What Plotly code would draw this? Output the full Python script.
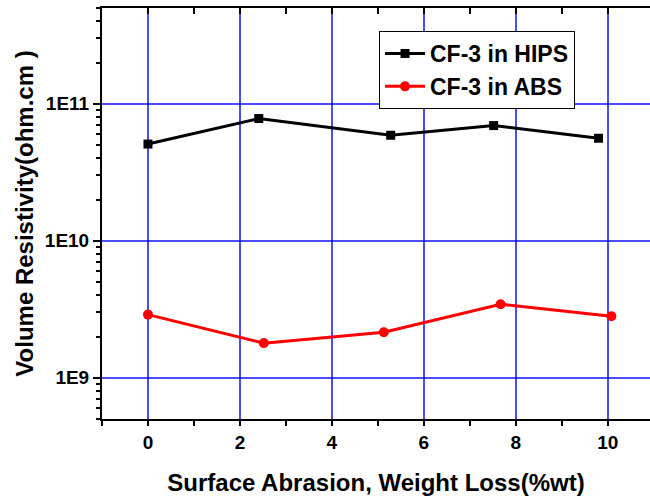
import plotly.graph_objects as go

hips_x = [0.0, 2.41, 5.28, 7.52, 9.80]
hips_y = [5.08e10, 7.8e10, 5.89e10, 6.93e10, 5.6e10]
abs_x = [0.0, 2.52, 5.13, 7.67, 10.08]
abs_y = [2.89e9, 1.79e9, 2.15e9, 3.44e9, 2.81e9]

x_tickvals = [0, 2, 4, 6, 8, 10]
x_minor = [-1, 1, 3, 5, 7, 9]
y_tickvals = [1e9, 1e10, 1e11]
y_ticktext = ["1E9", "1E10", "1E11"]
y_minor = [m * 10 ** e for e in (8, 9, 10, 11) for m in range(2, 10) if 5e8 <= m * 10 ** e <= 5e11]

FONT = "Liberation Sans, Arial, sans-serif"
X_RANGE = [-1, 10.92]
GRID = "rgba(0,0,255,0.7)"

fig = go.Figure()
fig.add_trace(go.Scatter(
    x=hips_x, y=hips_y, name="<b>CF-3 in HIPS</b>", mode="lines+markers",
    line=dict(color="black", width=3),
    marker=dict(symbol="square", size=9, color="black"),
))
fig.add_trace(go.Scatter(
    x=abs_x, y=abs_y, name="<b>CF-3 in ABS</b>", mode="lines+markers",
    line=dict(color="red", width=3),
    marker=dict(symbol="circle", size=10, color="red"),
))
# empty trace so the top (mirror) axis is drawn
fig.add_trace(go.Scatter(x=[None], y=[None], xaxis="x2", showlegend=False, hoverinfo="skip"))

fig.update_layout(
    width=650, height=496,
    margin=dict(l=102, r=0, t=8, b=77, autoexpand=False),
    plot_bgcolor="white", paper_bgcolor="white",
    font=dict(family=FONT, color="black"),
    showlegend=True,
    legend=dict(
        x=0.5055, y=0.944, xanchor="left", yanchor="top",
        bordercolor="black", borderwidth=1, bgcolor="white",
        font=dict(size=23, family=FONT, color="black"),
        itemwidth=40, tracegroupgap=0,
    ),
    xaxis=dict(
        range=X_RANGE, showline=True, linecolor="black", linewidth=2,
        automargin=False,
        ticks="outside", ticklen=5, tickwidth=2, tickcolor="black",
        tickmode="array", tickvals=x_tickvals,
        ticktext=["<b>%d</b>" % v for v in x_tickvals],
        tickfont=dict(size=19, family=FONT),
        minor=dict(tickmode="array", tickvals=x_minor,
                   ticks="outside", ticklen=5, tickwidth=2, tickcolor="black"),
        showgrid=True, gridcolor=GRID, gridwidth=1.5, zeroline=False,
        title=dict(text="<b>Surface Abrasion, Weight Loss(%wt)</b>",
                   font=dict(size=24, family=FONT), standoff=22),
    ),
    xaxis2=dict(
        overlaying="x", side="top", anchor="y", range=X_RANGE, showline=True,
        linecolor="black", linewidth=2, automargin=False,
        ticks="inside", ticklen=6, tickwidth=2, tickcolor="black",
        tickmode="array", tickvals=x_minor + x_tickvals,
        showticklabels=False, showgrid=False, zeroline=False,
    ),
    yaxis=dict(
        type="log", range=[8.699, 11.699], showline=True, linecolor="black", linewidth=2,
        automargin=False,
        ticks="outside", ticklen=7, tickwidth=2, tickcolor="black",
        tickmode="array", tickvals=y_tickvals,
        ticktext=["<b>%s</b>" % t for t in y_ticktext],
        tickfont=dict(size=19, family=FONT),
        minor=dict(tickmode="array", tickvals=y_minor, ticks="outside",
                   ticklen=4, tickwidth=2, tickcolor="black"),
        showgrid=True, gridcolor=GRID, gridwidth=1.5, zeroline=False,
        title=dict(text="<b>Volume Resistivity(ohm.cm )</b>",
                   font=dict(size=24, family=FONT), standoff=4),
    ),
)

fig.write_html(
    "out.html",
    config={"displayModeBar": False},
    post_script="document.body.style.margin='0';document.body.style.overflow='hidden';",
)
